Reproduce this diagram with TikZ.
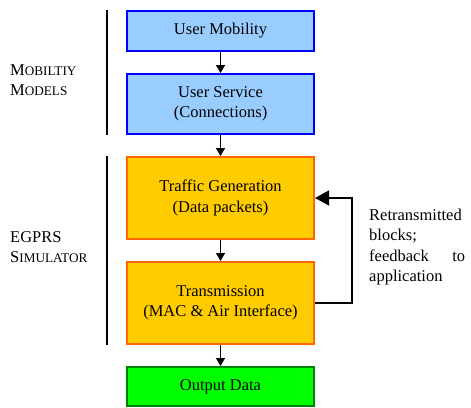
\documentclass[tikz,border=0pt]{standalone}
\usepackage{fontspec}
\setmainfont{Liberation Serif}
\newfontfamily\timesfont{Liberation Serif}
\usetikzlibrary{positioning,arrows.meta}

\definecolor{mobblue}{HTML}{99CCFF}
\definecolor{simyellow}{HTML}{FFCC00}
\definecolor{simorange}{HTML}{FF6600}
\definecolor{outgreen}{HTML}{00FF00}
\definecolor{outdark}{HTML}{008000}

\newcommand\fakesc[2]{#1{\fontsize{13.2}{13.2}\selectfont #2}}

\tikzset{
  block/.style={draw, line width=2pt, minimum width=187pt, align=center,
    font=\timesfont\fontsize{16.5}{20.5}\selectfont},
  mobility/.style={block, draw=blue, fill=mobblue},
  simulator/.style={block, draw=simorange, fill=simyellow},
  output/.style={block, draw=outdark, fill=outgreen},
  flow/.style={line width=1.5pt, -{Triangle[length=8pt,width=9pt]}},
  feedback/.style={line width=1.5pt, -{Triangle[length=14pt,width=15pt]}},
  bar/.style={line width=2.2pt},
  group/.style={align=left, anchor=west, font=\timesfont\fontsize{16.5}{20.5}\selectfont}
}

\begin{document}
\begin{tikzpicture}[x=1pt,y=1pt]
\useasboundingbox (0,0) rectangle (471,-407);

\node[mobility, minimum height=40pt] (mob) at (220.5,-31) {User Mobility};
\node[mobility, minimum height=60pt, below=21pt of mob] (serv) {User Service\\(Connections)};
\node[simulator, minimum height=82pt, below=21pt of serv] (traffic) {Traffic Generation\\(Data packets)};
\node[simulator, minimum height=82pt, below=21pt of traffic] (trans) {Transmission\\(MAC \& Air Interface)};
\node[output, minimum height=39pt, below=21pt of trans] (out) {Output Data};

\draw[flow] (mob) -- (serv);
\draw[flow] (serv) -- (traffic);
\draw[flow] (traffic) -- (trans);
\draw[flow] (trans) -- (out);

% retransmission loop
\draw[feedback] (trans.east) -- ++(37pt,0) |- (traffic.east);
\node[group, text width=96pt, inner sep=0pt] (retx) at (369,-247)
  {Retransmitted\\blocks;\\feedback\hfill to\\application};

% model groups on the left
\draw[bar] ([xshift=-19pt]mob.north west) -- ([xshift=-19pt]serv.south west);
\draw[bar] ([xshift=-19pt]traffic.north west) -- ([xshift=-19pt]trans.south west);
\node[group, inner sep=0pt] (models) at (10,-80) {\fakesc{M}{OBILTIY}\\\fakesc{M}{ODELS}};
\node[group, inner sep=0pt] (egprs) at (10,-247) {EGPRS\\\fakesc{S}{IMULATOR}};
\end{tikzpicture}
\end{document}
